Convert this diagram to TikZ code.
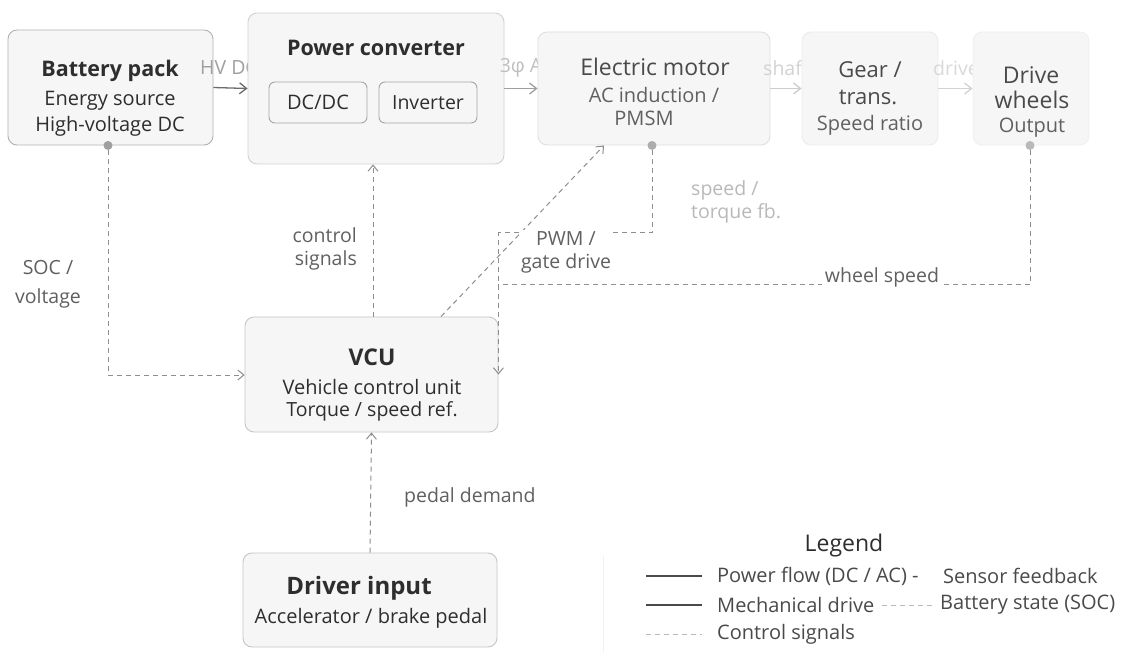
\documentclass[tikz,border=0pt]{standalone}
\usepackage{fontspec}
\setmainfont{Open Sans}
\usetikzlibrary{arrows.meta,backgrounds,calc}
\definecolor{boxfill}{HTML}{F6F6F6}
\definecolor{txtdark}{HTML}{2E2E2E}
\definecolor{txtmid}{HTML}{4A4A4A}
\definecolor{txtsoft}{HTML}{606060}
\definecolor{txtlight}{HTML}{8A8A8A}
\definecolor{dashcol}{HTML}{8E8E8E}
\newcommand{\fs}[1]{\fontsize{#1}{23}\selectfont}
\tikzset{
  box/.style={draw=#1, rounded corners=9pt, fill=boxfill, line width=0.9pt,
    align=center, inner sep=0pt},
  txt/.style={inner sep=0pt, align=center},
  lbl/.style={font=\fs{19.5}, text=txtsoft, align=center, inner sep=1pt},
  sig/.style={draw=dashcol, line width=1pt, dash pattern=on 5pt off 4pt},
  sigarrow/.style={sig, -{Straight Barb[length=6pt,width=10pt]}},
  pow/.style={line width=1.3pt, -{Straight Barb[length=7pt,width=11pt]}},
  dotmark/.style={circle, fill=#1, inner sep=0pt, minimum size=9pt},
  legtxt/.style={font=\fs{20}, text=txtmid, anchor=west, inner sep=0pt},
}
\begin{document}
\begin{tikzpicture}[x=1pt,y=-1pt]
\useasboundingbox (0,0) rectangle (1135,652);
\fill[white] (0,0) rectangle (1135,652);

% ---------- top row: each flow label is drawn after the box on its left
% ---------- and before the box on its right, which hides its tail ----------
\node[box=gray!60, minimum width=205pt, minimum height=115pt] (bat) at (110.5,87.5) {};
\node[txt, text=txtdark, font=\fs{21.5}\bfseries] (bat1) at (110,71) {Battery pack};
\node[txt, text=txtdark, font=\fs{20}] (bat2) at (110,101) {Energy source};
\node[txt, text=txtdark, font=\fs{20}] (bat3) at (110,126) {High-voltage DC};
\node[lbl, text=gray!75] (hvlbl) at (229,68) {HV DC};

\node[box=gray!35, minimum width=256pt, minimum height=151pt] (pc) at (376,88.5) {};
\node[txt, text=txtdark, font=\fs{21.5}\bfseries] (pc1) at (376,48) {Power converter};
\node[box=gray!70, rounded corners=6pt, minimum width=98pt, minimum height=41pt, text=txtdark, font=\fs{20}] (dcdc) at (318,102.5) {DC/DC};
\node[box=gray!70, rounded corners=6pt, minimum width=98pt, minimum height=41pt, text=txtdark, font=\fs{19.5}] (inv) at (428,102.5) {Inverter};
\node[lbl, text=gray!50] (aclbl) at (527,68) {3φ AC};

\node[box=gray!25, minimum width=232pt, minimum height=113pt] (mot) at (654,88.5) {};
\node[txt, text=txtmid, font=\fs{23}] (mot1) at (655,67) {Electric motor};
\node[txt, text=txtsoft, font=\fs{20}] (mot2) at (654,95) {AC induction /};
\node[txt, text=txtsoft, font=\fs{20}] (mot3) at (644,118) {PMSM};
\node[lbl, text=gray!35] (shlbl) at (786,68) {shaft};

\node[box=gray!15, minimum width=136pt, minimum height=113pt] (gear) at (870,88.5) {};
\node[txt, text=txtmid, font=\fs{22}] (gear1) at (870,70) {Gear /};
\node[txt, text=txtmid, font=\fs{22}] (gear2) at (868,97) {trans.};
\node[txt, text=txtsoft, font=\fs{20}] (gear3) at (870,125) {Speed ratio};
\node[lbl, text=gray!30] (drlbl) at (956,68) {drive};

\node[box=gray!12, minimum width=116pt, minimum height=113pt] (whl) at (1031,88.5) {};
\node[txt, text=txtmid, font=\fs{23}] (whl1) at (1031,75) {Drive};
\node[txt, text=txtmid, font=\fs{23}] (whl2) at (1032,100) {wheels};
\node[txt, text=txtsoft, font=\fs{20}] (whl3) at (1032,128) {Output};

% ---------- VCU and driver ----------
\node[box=gray!45, minimum width=253pt, minimum height=115pt] (vcu) at (371.5,374.5) {};
\node[txt, text=txtdark, font=\fs{23}\bfseries] (vcu1) at (372,357) {VCU};
\node[txt, text=txtdark, font=\fs{20}] (vcu2) at (372,387) {Vehicle control unit};
\node[txt, text=txtdark, font=\fs{19.5}] (vcu3) at (372,411) {Torque / speed ref.};

\node[box=gray!45, minimum width=254pt, minimum height=94pt] (drv) at (370,600) {};
\node[txt, text=txtdark, font=\fs{24}\bfseries] (drv1) at (359,588) {Driver input};
\node[txt, text=txtdark, font=\fs{20}] (drv2) at (371,618) {Accelerator / brake pedal};

% ---------- sensor dots ----------
\node[dotmark=gray!75] (bdot) at (bat.south -| 108,0) {};
\node[dotmark=gray!65] (mdot) at (mot.south -| 652,0) {};
\node[dotmark=gray!55] (wdot) at (whl.south -| 1030,0) {};

\coordinate (jtop) at (vcu.east |- 0,233);
\coordinate (jbot) at (vcu.east |- 0,285);
\coordinate (socc) at (108,375);

% ---------- power and mechanical flow ----------
\draw[pow, draw=gray!85!black] (bat.east) -- (pc.west);
\draw[pow, draw=gray!75] (pc.east) -- (mot.west);
\draw[pow, draw=gray!40] (mot.east) -- (gear.west);
\draw[pow, draw=gray!35] (gear.east) -- (whl.west);

% ---------- signals ----------
\draw[sigarrow] (bdot) -- (socc) -- (vcu.west |- socc);
\draw[sigarrow] (vcu.north -| 373,0) -- (pc.south -| 373,0);
\draw[sigarrow] (vcu.north -| 441,0) -- (mot.south -| 604,0);
\draw[sigarrow] (mdot) |- (jtop) -- (vcu.east);
\draw[sig] (wdot) |- (jbot);
\draw[sigarrow] (drv.north) -- (vcu.south);

\node[lbl, font=\fontsize{19.5}{29}\selectfont] (soclbl) at (48,284) {SOC /\\voltage};
\node[lbl, align=right, anchor=east] (ctllbl) at (358,249) {control\\signals};
\node[lbl, fill=white, inner sep=1pt] (pwmlbl) at (566,252) {PWM /\\gate drive};
\node[lbl, text=gray!55, align=left, anchor=west] (fblbl) at (690,202) {speed /\\torque fb.};
\node[lbl, fill=white, inner sep=3pt] (wslbl) at (882,277) {wheel speed};
\node[lbl, anchor=west] (pedlbl) at (403,497) {pedal demand};

% ---------- legend ----------
\draw[gray!12, line width=0.8pt] (603,556) -- (603,652);
\node[text=txtdark, font=\fs{23}] (legt) at (844,546) {Legend};
\coordinate (l1a) at (646,576); \coordinate (l1b) at (702,576);
\coordinate (l2a) at (646,605); \coordinate (l2b) at (702,605);
\coordinate (l3a) at (646,634); \coordinate (l3b) at (702,634);
\coordinate (l4a) at (882,605); \coordinate (l4b) at (933,605);
\draw[txtmid, line width=1.2pt] (l1a) -- (l1b);
\draw[txtmid, line width=1.2pt] (l2a) -- (l2b);
\draw[gray!55, line width=1pt, dash pattern=on 5pt off 4pt] (l3a) -- (l3b);
\draw[gray!55, line width=1pt, dash pattern=on 5pt off 4pt] (l4a) -- (l4b);
\node[legtxt] (lg1) at (717,576) {Power flow (DC / AC) -};
\node[legtxt] (lg2) at (943,576) {Sensor feedback};
\node[legtxt] (lg3) at (717,605) {Mechanical drive};
\node[legtxt] (lg4) at (940,605) {Battery state (SOC)};
\node[legtxt] (lg5) at (717,634) {Control signals};
\end{tikzpicture}
\end{document}
